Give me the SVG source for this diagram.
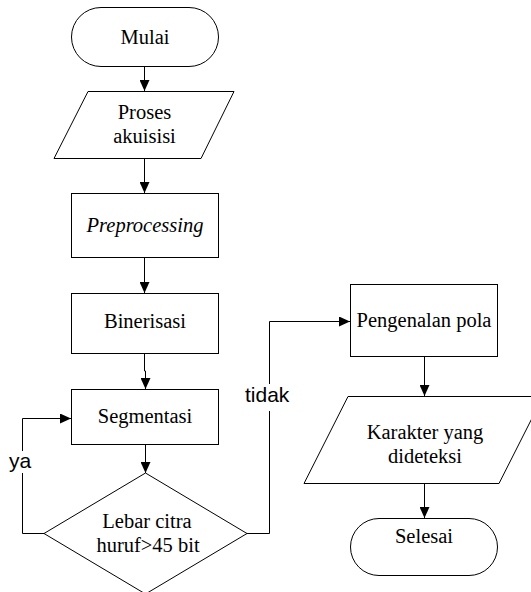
<svg xmlns="http://www.w3.org/2000/svg" width="531" height="592" viewBox="0 0 531 592">
<style>
.shape{fill:#fff;stroke:#000;stroke-width:1}
.t{font-family:'Liberation Serif', 'Times New Roman', Times, serif;font-size:20.5px;fill:#000;text-anchor:middle}
.it{font-style:italic}
.lbl{font-family:'Liberation Sans', Arial, sans-serif;font-size:21px;fill:#000}
.conn{fill:none;stroke:#000;stroke-width:1}
.arr{marker-end:url(#ah)}
</style>
<defs>
<marker id="ah" viewBox="0 0 11 10" markerWidth="11" markerHeight="10" refX="11" refY="5" markerUnits="userSpaceOnUse" orient="auto">
<path d="M0,0 L11,5 L0,10 z" fill="#000"/>
</marker>
</defs>
<rect width="531" height="592" fill="#fff"/>
<g id="connectors">
<path class="conn arr" d="M144.5,66 V91"/>
<path class="conn arr" d="M144.5,158 V193"/>
<path class="conn arr" d="M144.5,257 V293"/>
<path class="conn arr" d="M144.5,353 V371 H145.5 V389"/>
<path class="conn arr" d="M145.5,444 V473"/>
<path class="conn arr" d="M44,533.5 H22.5 V418.5 H71"/>
<path class="conn arr" d="M247,533.5 H269.5 V321.5 H350"/>
<path class="conn arr" d="M424.5,356 V396"/>
<path class="conn arr" d="M424.5,483 V518"/>
<rect x="7" y="451" width="28" height="22" fill="#fff"/>
<text class="lbl" x="9" y="468">ya</text>
<rect x="244" y="384" width="51" height="27" fill="#fff"/>
<text class="lbl" x="245" y="402">tidak</text>
</g>
<g id="mulai">
<rect class="shape" x="71.5" y="7.5" width="147" height="59" rx="29.5"/>
<text class="t" x="145" y="44" font-family="Liberation Serif">Mulai</text>
</g>
<g id="proses-akuisisi">
<polygon class="shape" points="88,91.5 234,91.5 201,158.5 54,158.5"/>
<text class="t" x="144.5" y="119">Proses</text>
<text class="t" x="144.5" y="143">akuisisi</text>
</g>
<g id="preprocessing">
<rect class="shape" x="71.5" y="193.5" width="147" height="64"/>
<text class="t it" x="145" y="232">Preprocessing</text>
</g>
<g id="binerisasi">
<rect class="shape" x="71.5" y="293.5" width="147" height="60"/>
<text class="t" x="145" y="328">Binerisasi</text>
</g>
<g id="segmentasi">
<rect class="shape" x="71.5" y="389.5" width="147" height="55"/>
<text class="t" x="145" y="423">Segmentasi</text>
</g>
<g id="keputusan">
<polygon class="shape" points="145.5,473 247,533.5 145.5,594 44,533.5"/>
<text class="t" x="147" y="528">Lebar citra</text>
<text class="t" x="148" y="552">huruf&gt;45 bit</text>
</g>
<g id="pengenalan-pola">
<rect class="shape" x="350.5" y="284.5" width="147" height="72"/>
<text class="t" x="424" y="327">Pengenalan pola</text>
</g>
<g id="karakter">
<polygon class="shape" points="348,396.5 543,396.5 499,483.5 304,483.5"/>
<text class="t" x="425" y="439">Karakter yang</text>
<text class="t" x="425" y="463">dideteksi</text>
</g>
<g id="selesai">
<rect class="shape" x="350.5" y="518.5" width="147" height="57" rx="28.5"/>
<text class="t" x="424" y="543">Selesai</text>
</g>
</svg>
